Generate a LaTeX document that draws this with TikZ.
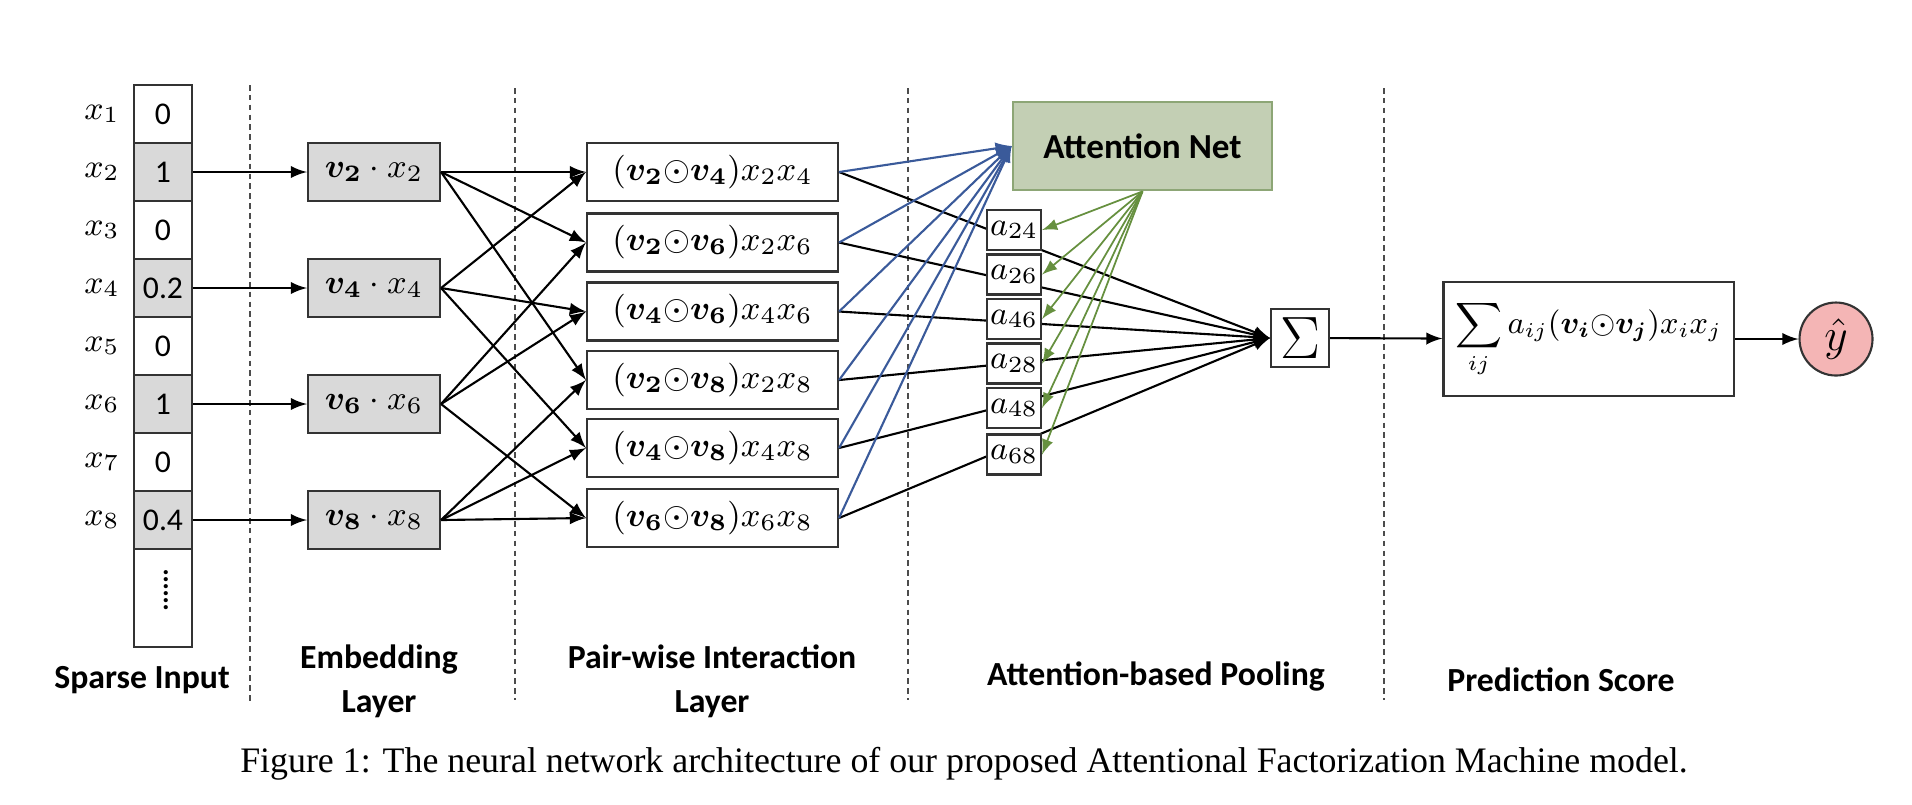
\RequirePackage{fix-cm}
\documentclass[tikz,border=0pt]{standalone}
\usepackage{amsmath, amssymb}
\usepackage{bm}
\usepackage{fontspec}
\setmainfont{Carlito}
\newfontfamily\capfont{Liberation Serif}
\usepackage{tikz}

\definecolor{cellgray}{HTML}{D9D9D9}
\definecolor{attfill}{HTML}{C3CFB4}
\definecolor{attdraw}{HTML}{8DA676}
\definecolor{attblue}{HTML}{3A5A9A}
\definecolor{attgreen}{HTML}{66903F}
\definecolor{yfill}{HTML}{F4B5B5}

\begin{document}
\begin{tikzpicture}[
		cell/.style={draw=black!80, line width=0.6pt, inner sep=0pt, minimum width=0.58cm, minimum height=0.58cm, font=\fontsize{9}{11}\selectfont},
		embed/.style={draw=black!80, line width=0.6pt, fill=cellgray, inner sep=0pt, minimum width=1.32cm, minimum height=0.58cm, font=\fontsize{9.6}{11}\selectfont},
		pair/.style={draw=black!80, line width=0.6pt, fill=white, inner sep=0pt, minimum width=2.51cm, minimum height=0.58cm, font=\fontsize{9.6}{11}\selectfont},
		abox/.style={draw=black!80, line width=0.6pt, fill=white, inner sep=0pt, minimum width=0.54cm, minimum height=0.40cm, font=\fontsize{9.4}{11}\selectfont},
		layer/.style={font=\fontsize{9.6}{12.5}\selectfont\bfseries, align=center},
		conn/.style={line width=0.6pt, -latex},
		sep/.style={line width=0.5pt, black!70, dash pattern=on 1.6pt off 1.2pt}
	]
		\useasboundingbox (0,0) rectangle (19.12,-8.04);

		% Separators
		\draw[sep] (2.50,-0.85) -- (2.50,-7.03);
		\draw[sep] (5.15,-0.88) -- (5.15,-7.00);
		\draw[sep] (9.08,-0.88) -- (9.08,-7.00);
		\draw[sep] (13.84,-0.88) -- (13.84,-7.00);

		% Sparse input
		\foreach \i/\v/\c in {1/0/white, 2/1/cellgray, 3/0/white, 4/0.2/cellgray, 5/0/white, 6/1/cellgray, 7/0/white, 8/0.4/cellgray}{
			\node[cell, fill=\c] (x\i) at (1.63,{-(0.56+0.58*\i)}) {\v};
			\node[font=\fontsize{9.4}{11}\selectfont] (lx\i) at (1.02,{-(0.56+0.58*\i)}) {$x_{\i}$};
		}
		\node[cell, minimum height=0.98cm] (xdots) at (1.63,-5.98) {};
		\node[align=center, inner sep=0pt, font=\fontsize{8}{2}\selectfont\bfseries] (dots) at (1.66,-5.90) {.\\.\\.\\.\\.\\.};

		% Embedding layer
		\foreach \i in {2,4,6,8}{
			\node[embed] (e\i) at (3.74,{-(0.56+0.58*\i)}) {$\bm{v_{\i}}\cdot x_{\i}$};
			\draw[conn] (x\i) -- (e\i);
		}

		% Pair-wise interactions
		\foreach \i/\j/\y in {2/4/1.72, 2/6/2.425, 4/6/3.115, 2/8/3.80, 4/8/4.48, 6/8/5.18}{
			\node[pair] (p\i\j) at (7.125,-\y) {$(\bm{v_{\i}}{\odot}\bm{v_{\j}})x_{\i}x_{\j}$};
			\draw[conn] (e\i.east) -- (p\i\j.west);
			\draw[conn] (e\j.east) -- (p\i\j.west);
		}

		% Attention net and pooling
		\node[draw=attdraw, line width=0.8pt, fill=attfill, minimum width=2.59cm, minimum height=0.88cm, font=\fontsize{10}{12}\selectfont\bfseries] (att) at (11.425,-1.46) {Attention Net};
		\node[draw=black!80, line width=0.6pt, inner sep=0pt, minimum size=0.58cm, font=\fontsize{17}{18}\selectfont] (sigma) at (13.0,-3.38) {$\Sigma$};
		\foreach \p in {24,26,46,28,48,68}{
			\draw[conn] (p\p.east) -- (sigma.west);
			\draw[conn, attblue] (p\p.east) -- (att.west);
		}
		\foreach \p/\y in {24/2.30, 26/2.745, 46/3.19, 28/3.635, 48/4.08, 68/4.545}{
			\node[abox] (a\p) at (10.14,-\y) {$a_{\p}$};
			\draw[attgreen, line width=0.5pt, -latex] (att.south) -- (a\p.east);
		}

		% Prediction
		\node[draw=black!80, line width=0.6pt, minimum width=2.89cm, minimum height=1.14cm, font=\fontsize{9}{11}\selectfont] (score) at (15.885,-3.39) {$\displaystyle\sum_{ij} a_{ij}(\bm{v_i}{\odot}\bm{v_j})x_ix_j$};
		\node[circle, draw=black!80, line width=0.6pt, fill=yfill, minimum size=0.73cm, inner sep=0pt, font=\fontsize{13}{15}\selectfont] (yhat) at (18.36,-3.39) {$\hat{y}$};
		\draw[conn] (sigma) -- (score);
		\draw[conn] (score) -- (yhat);

		% Layer names
		\node[layer] (tin) at (1.42,-6.80) {Sparse Input};
		\node[layer] (temb) at (3.79,-6.81) {Embedding\\Layer};
		\node[layer] (tpair) at (7.12,-6.81) {Pair-wise Interaction\\Layer};
		\node[layer] (tpool) at (11.56,-6.76) {Attention-based Pooling};
		\node[layer] (tpred) at (15.61,-6.80) {Prediction Score};

		% Caption
		\node[font=\capfont\fontsize{10.2}{12}\selectfont] (caption) at (9.64,-7.64) {Figure 1: The neural network architecture of our proposed Attentional Factorization Machine model.};
	\end{tikzpicture}
\end{document}
